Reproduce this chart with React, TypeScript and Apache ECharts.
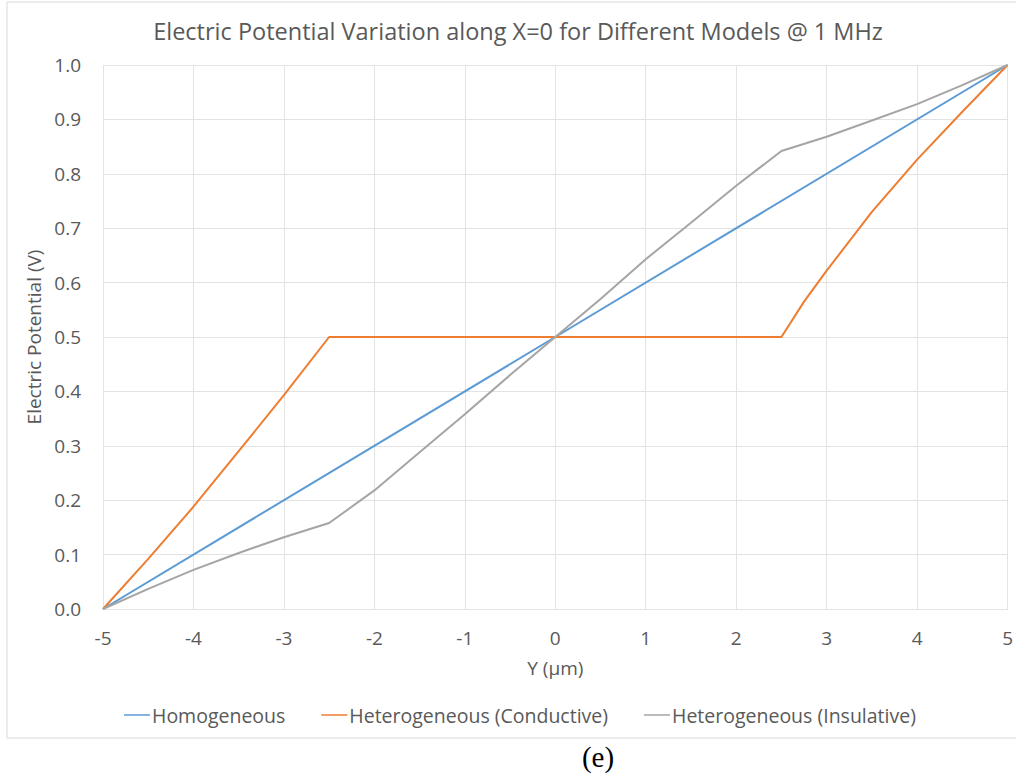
import React, { useEffect, useRef } from "react";
import * as echarts from "echarts";

const titleText = "Electric Potential Variation along X=0 for Different Models @ 1 MHz";
const xAxisName = "Y (µm)";
const yAxisName = "Electric Potential (V)";
const seriesNames = ["Homogeneous", "Heterogeneous (Conductive)", "Heterogeneous (Insulative)"];
const seriesColors = ["#5B9BD5", "#ED7D31", "#A5A5A5"];

const homoX = [-5, 0, 5];
const homoY = [0, 0.5, 1.0];

const condX = [-5, -4.5, -4, -3.5, -3, -2.5, 0, 2.5, 2.75, 3, 3.5, 4, 4.5, 5];
const condY = [0, 0.092, 0.188, 0.29, 0.393, 0.5, 0.5, 0.5, 0.565, 0.622, 0.73, 0.826, 0.914, 1.0];

const insX = [-5, -4.5, -4, -3.5, -3, -2.5, -2, -1.5, -1, -0.5, 0, 0.5, 1, 1.5, 2, 2.5, 3, 3.5, 4, 4.5, 5];
const insY = [0, 0.037, 0.072, 0.103, 0.132, 0.158, 0.218, 0.288, 0.358, 0.43, 0.5, 0.57, 0.643, 0.71, 0.778, 0.842, 0.868, 0.898, 0.928, 0.963, 1.0];

const pairs = (xs: number[], ys: number[]) => xs.map((x, i) => [x, ys[i]]);

const FONT = "'Open Sans', sans-serif";
const TEXT = "#595959";
const GRID = "#E3E3E3";

export default function App() {
  const ref = useRef<HTMLDivElement>(null);
  useEffect(() => {
    if (!ref.current) return;
    const chart = echarts.init(ref.current, null, { renderer: "svg" });
    const datasets = [pairs(homoX, homoY), pairs(condX, condY), pairs(insX, insY)];
    chart.setOption({
      animation: false,
      backgroundColor: "#ffffff",
      title: {
        text: titleText,
        left: 513,
        top: 14,
        textAlign: "center",
        textStyle: { fontFamily: FONT, fontSize: 23.5, fontWeight: "normal", color: TEXT },
      },
      legend: {
        data: seriesNames,
        left: 119,
        top: 700,
        icon: "rect",
        itemWidth: 26,
        itemHeight: 1.5,
        itemGap: 36,
        textStyle: { fontFamily: FONT, fontSize: 19.5, color: TEXT, padding: [0, 0, 0, -3] },
      },
      grid: { left: 103, right: 5, top: 65, bottom: 166, containLabel: false },
      xAxis: {
        type: "value",
        min: -5,
        max: 5,
        interval: 1,
        name: xAxisName,
        nameLocation: "middle",
        nameGap: 49,
        nameTextStyle: { fontFamily: FONT, fontSize: 19, color: TEXT },
        axisLine: { show: true, lineStyle: { color: GRID, width: 1 } },
        axisTick: { show: false },
        axisLabel: { fontFamily: FONT, fontSize: 19, color: TEXT, margin: 19 },
        splitLine: { show: true, lineStyle: { color: GRID, width: 1 } },
      },
      yAxis: {
        type: "value",
        min: 0,
        max: 1,
        interval: 0.1,
        name: yAxisName,
        nameLocation: "middle",
        nameGap: 56,
        nameTextStyle: { fontFamily: FONT, fontSize: 19, color: TEXT },
        axisLine: { show: false },
        axisTick: { show: false },
        axisLabel: {
          fontFamily: FONT,
          fontSize: 19,
          color: TEXT,
          margin: 22,
          formatter: (v: number) => v.toFixed(1),
        },
        splitLine: { show: true, lineStyle: { color: GRID, width: 1 } },
      },
      series: seriesNames.map((name, i) => ({
        name,
        type: "line",
        data: datasets[i],
        showSymbol: false,
        symbol: "none",
        lineStyle: { color: seriesColors[i], width: 2 },
        itemStyle: { color: seriesColors[i] },
      })),
      graphic: [
        {
          type: "rect",
          shape: { x: 7, y: 2, width: 1020, height: 736 },
          style: { fill: "none", stroke: "#D9D9D9", lineWidth: 1 },
          silent: true,
          z: -10,
        },
        {
          type: "text",
          x: 598,
          y: 757,
          style: {
            text: "(e)",
            font: "29px 'Liberation Serif', 'Times New Roman', serif",
            fill: "#000000",
            align: "center",
            verticalAlign: "middle",
          },
        },
      ],
    });
    return () => chart.dispose();
  }, []);
  return (
    <div
      ref={ref}
      style={{ position: "absolute", left: 0, top: 0, width: 1016, height: 775 }}
    />
  );
}
